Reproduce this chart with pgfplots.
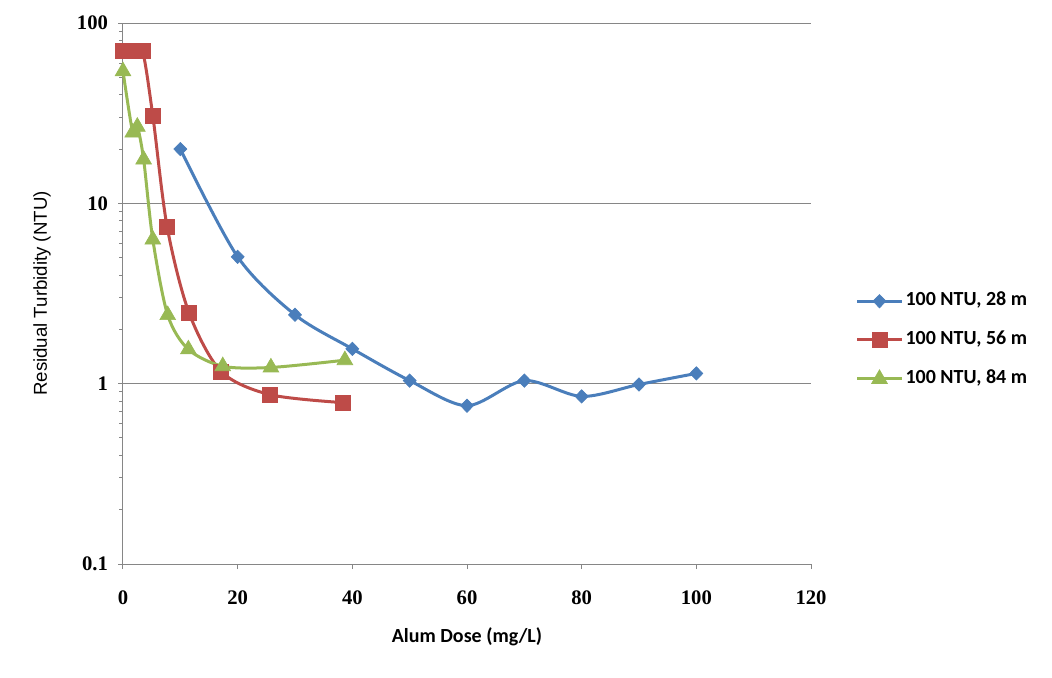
\documentclass[border=0pt]{standalone}
\usepackage{pgfplots}
\pgfplotsset{compat=1.18}
\usepackage{fontspec}
\setmainfont{Carlito}
\newfontfamily\tickfont{Liberation Serif}
\newfontfamily\arialfont{Liberation Sans}
\usetikzlibrary{calc}
\definecolor{cblue}{HTML}{4A7EBB}
\definecolor{cred}{HTML}{BE4B48}
\definecolor{cgreen}{HTML}{98B954}
\definecolor{axisgray}{HTML}{868686}
\begin{document}
\begin{tikzpicture}
\begin{axis}[
 scale only axis, width=516pt, height=405.75pt,
 xmin=0, xmax=120, xtick={0,20,...,120},
 ymode=log, ymin=0.1, ymax=100,
 ytick={0.1,1,10,100}, yticklabels={0.1,1,10,100},
 minor ytick={}, minor xtick={},
 axis x line*=bottom, axis y line*=left,
 axis line style={draw=axisgray, line width=0.75pt, -},
 ymajorgrids, major grid style={draw=axisgray, line width=0.75pt},
 tick align=outside, major tick length=3.75pt,
 tick style={draw=axisgray, line width=0.75pt},
 /pgf/number format/assume math mode=true,
 ticklabel style={font=\tickfont\bfseries\fontsize{15.5}{18}\selectfont},
 xticklabel style={yshift=-13pt},
 yticklabel style={xshift=-4pt},
 xlabel={Alum Dose (mg/L)}, ylabel={Residual Turbidity (NTU)},
 every axis x label/.style={at={(axis description cs:0.5,-0.1349)}, anchor=center, font=\bfseries\fontsize{15}{18}\selectfont},
 every axis y label/.style={at={(axis description cs:-0.1177,0.5)}, anchor=center, rotate=90, font=\arialfont\fontsize{14}{16}\selectfont},
 legend style={at={(axis description cs:1.065,0.414)}, anchor=west, draw=none, fill=none, inner sep=0pt, row sep=16pt,
   font=\bfseries\fontsize{15}{18}\selectfont,
   nodes={inner xsep=1.9pt, inner ysep=0pt, text height=10pt, text depth=3pt}},
 legend cell align=left,
 legend image code/.code={\draw[mark repeat=2,mark phase=2] plot coordinates {(0pt,0pt)(16.5pt,0pt)(33pt,0pt)};},
 every axis plot/.append style={line width=2.25pt, smooth},
 clip=false,
]
\addplot[color=cblue, mark=diamond*, mark size=5pt, mark options={xscale=1.3, line width=0.5pt}] coordinates {
 (10,20) (20,5.05) (30,2.41) (40,1.56) (50,1.04) (60,0.755) (70,1.04) (80,0.85) (90,0.99) (100,1.14)};
\addlegendentry{100 NTU, 28 m}
\addplot[color=cred, mark=square*, mark size=5.6pt, mark options={line width=0.5pt}] coordinates {
 (0,70) (1.7,70) (3.4,70) (5.2,30.6) (7.7,7.4) (11.5,2.48) (17.1,1.17) (25.6,0.87) (38.4,0.785)};
\addlegendentry{100 NTU, 56 m}
\addplot[color=cgreen, mark=triangle*, mark size=6.8pt, mark options={line width=0.5pt}] coordinates {
 (0,54) (1.7,24.7) (2.5,26.6) (3.6,17.5) (5.2,6.3) (7.8,2.4) (11.4,1.55) (17.4,1.25) (25.8,1.23) (38.7,1.35)};
\addlegendentry{100 NTU, 84 m}
\end{axis}
\pgfresetboundingbox
\path ($(current axis.south west)+(-92.25pt,-84.75pt)$) rectangle ($(current axis.north east)+(180.75pt,17.25pt)$);
\end{tikzpicture}
\end{document}
